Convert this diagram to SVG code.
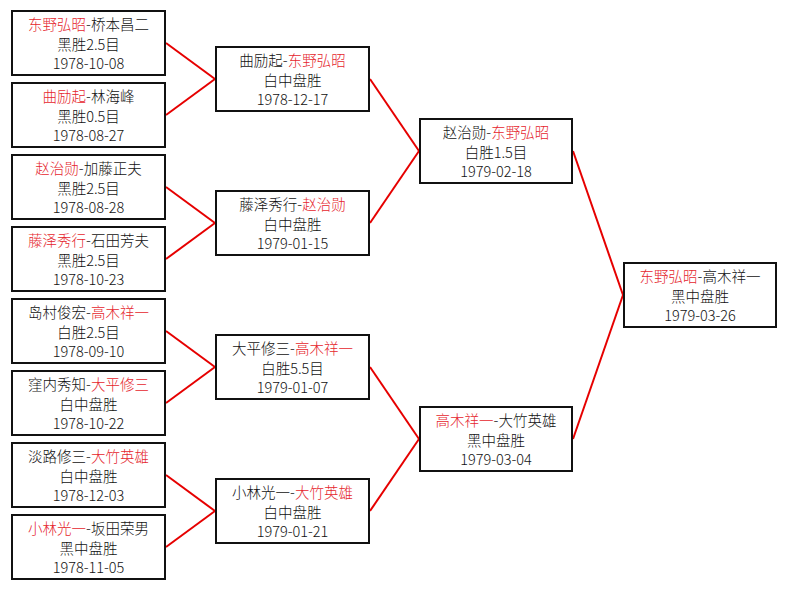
<svg xmlns="http://www.w3.org/2000/svg" width="787" height="589" viewBox="0 0 787 589">
<style>
.bg{fill:#ffffff}
.box{fill:#ffffff;stroke:#111111;stroke-width:2}
.ln{stroke:#e60000;stroke-width:2;fill:none}
.t{font-family:"Noto Sans CJK SC",sans-serif;font-size:14.5px;font-weight:300;text-anchor:middle;fill:#111111}
.r{fill:#e5262d}
</style>
<rect class="bg" x="0" y="0" width="787" height="589"/>
<g id="connectors">
<line class="ln" x1="166" y1="43" x2="215" y2="79"/>
<line class="ln" x1="166" y1="115" x2="215" y2="79"/>
<line class="ln" x1="166" y1="187" x2="215" y2="223"/>
<line class="ln" x1="166" y1="259" x2="215" y2="223"/>
<line class="ln" x1="166" y1="331" x2="215" y2="367"/>
<line class="ln" x1="166" y1="403" x2="215" y2="367"/>
<line class="ln" x1="166" y1="475" x2="215" y2="511"/>
<line class="ln" x1="166" y1="547" x2="215" y2="511"/>
<line class="ln" x1="370" y1="79" x2="419" y2="151"/>
<line class="ln" x1="370" y1="223" x2="419" y2="151"/>
<line class="ln" x1="370" y1="367" x2="419" y2="439"/>
<line class="ln" x1="370" y1="511" x2="419" y2="439"/>
<line class="ln" x1="573" y1="151" x2="623" y2="295"/>
<line class="ln" x1="573" y1="439" x2="623" y2="295"/>
</g>
<g id="r1-1"><rect class="box" x="12" y="11" width="153" height="64"/>
<text class="t" x="88.5" y="30"><tspan class="r">东野弘昭</tspan>-桥本昌二</text>
<text class="t" x="88.5" y="49.5">黑胜2.5目</text>
<text class="t" x="88.5" y="69">1978-10-08</text></g>
<g id="r1-2"><rect class="box" x="12" y="83" width="153" height="64"/>
<text class="t" x="88.5" y="102"><tspan class="r">曲励起</tspan>-林海峰</text>
<text class="t" x="88.5" y="121.5">黑胜0.5目</text>
<text class="t" x="88.5" y="141">1978-08-27</text></g>
<g id="r1-3"><rect class="box" x="12" y="155" width="153" height="64"/>
<text class="t" x="88.5" y="174"><tspan class="r">赵治勋</tspan>-加藤正夫</text>
<text class="t" x="88.5" y="193.5">黑胜2.5目</text>
<text class="t" x="88.5" y="213">1978-08-28</text></g>
<g id="r1-4"><rect class="box" x="12" y="227" width="153" height="64"/>
<text class="t" x="88.5" y="246"><tspan class="r">藤泽秀行</tspan>-石田芳夫</text>
<text class="t" x="88.5" y="265.5">黑胜2.5目</text>
<text class="t" x="88.5" y="285">1978-10-23</text></g>
<g id="r1-5"><rect class="box" x="12" y="299" width="153" height="64"/>
<text class="t" x="88.5" y="318">岛村俊宏-<tspan class="r">高木祥一</tspan></text>
<text class="t" x="88.5" y="337.5">白胜2.5目</text>
<text class="t" x="88.5" y="357">1978-09-10</text></g>
<g id="r1-6"><rect class="box" x="12" y="371" width="153" height="64"/>
<text class="t" x="88.5" y="390">窪内秀知-<tspan class="r">大平修三</tspan></text>
<text class="t" x="88.5" y="409.5">白中盘胜</text>
<text class="t" x="88.5" y="429">1978-10-22</text></g>
<g id="r1-7"><rect class="box" x="12" y="443" width="153" height="64"/>
<text class="t" x="88.5" y="462">淡路修三-<tspan class="r">大竹英雄</tspan></text>
<text class="t" x="88.5" y="481.5">白中盘胜</text>
<text class="t" x="88.5" y="501">1978-12-03</text></g>
<g id="r1-8"><rect class="box" x="12" y="515" width="153" height="64"/>
<text class="t" x="88.5" y="534"><tspan class="r">小林光一</tspan>-坂田荣男</text>
<text class="t" x="88.5" y="553.5">黑中盘胜</text>
<text class="t" x="88.5" y="573">1978-11-05</text></g>
<g id="r2-1"><rect class="box" x="216" y="47" width="153" height="64"/>
<text class="t" x="292.5" y="66">曲励起-<tspan class="r">东野弘昭</tspan></text>
<text class="t" x="292.5" y="85.5">白中盘胜</text>
<text class="t" x="292.5" y="105">1978-12-17</text></g>
<g id="r2-2"><rect class="box" x="216" y="191" width="153" height="64"/>
<text class="t" x="292.5" y="210">藤泽秀行-<tspan class="r">赵治勋</tspan></text>
<text class="t" x="292.5" y="229.5">白中盘胜</text>
<text class="t" x="292.5" y="249">1979-01-15</text></g>
<g id="r2-3"><rect class="box" x="216" y="335" width="153" height="64"/>
<text class="t" x="292.5" y="354">大平修三-<tspan class="r">高木祥一</tspan></text>
<text class="t" x="292.5" y="373.5">白胜5.5目</text>
<text class="t" x="292.5" y="393">1979-01-07</text></g>
<g id="r2-4"><rect class="box" x="216" y="479" width="153" height="64"/>
<text class="t" x="292.5" y="498">小林光一-<tspan class="r">大竹英雄</tspan></text>
<text class="t" x="292.5" y="517.5">白中盘胜</text>
<text class="t" x="292.5" y="537">1979-01-21</text></g>
<g id="r3-1"><rect class="box" x="420" y="119" width="152" height="64"/>
<text class="t" x="496" y="138">赵治勋-<tspan class="r">东野弘昭</tspan></text>
<text class="t" x="496" y="157.5">白胜1.5目</text>
<text class="t" x="496" y="177">1979-02-18</text></g>
<g id="r3-2"><rect class="box" x="420" y="407" width="152" height="64"/>
<text class="t" x="496" y="426"><tspan class="r">高木祥一</tspan>-大竹英雄</text>
<text class="t" x="496" y="445.5">黑中盘胜</text>
<text class="t" x="496" y="465">1979-03-04</text></g>
<g id="final"><rect class="box" x="624" y="263" width="152" height="64"/>
<text class="t" x="700" y="282"><tspan class="r">东野弘昭</tspan>-高木祥一</text>
<text class="t" x="700" y="301.5">黑中盘胜</text>
<text class="t" x="700" y="321">1979-03-26</text></g>
</svg>
